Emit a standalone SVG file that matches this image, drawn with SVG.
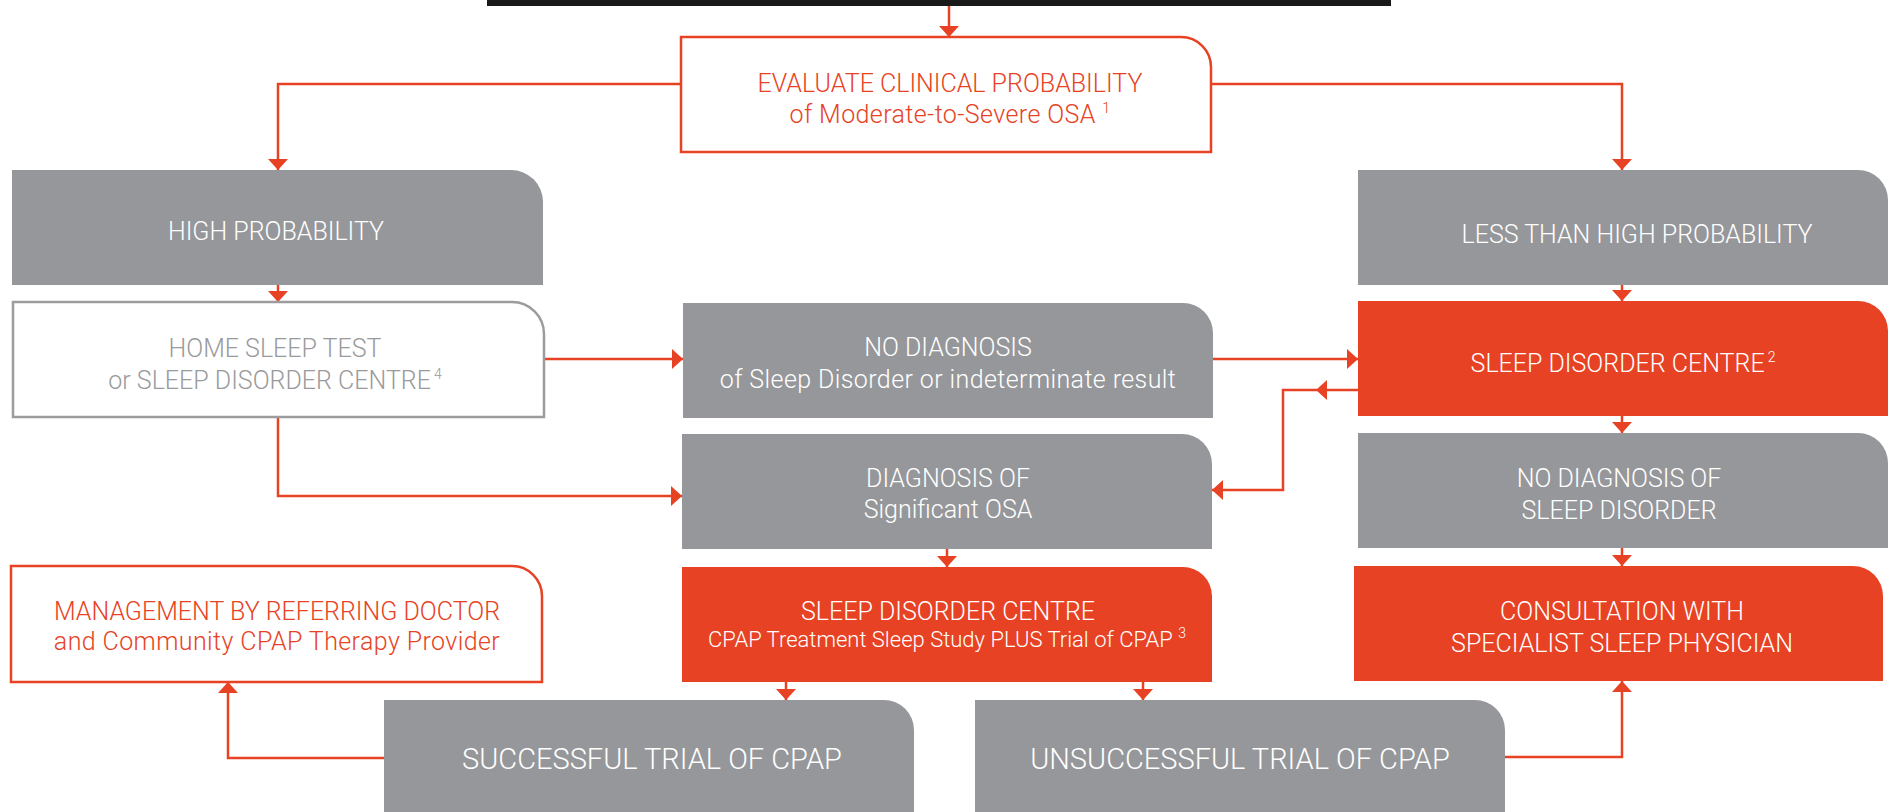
<svg xmlns="http://www.w3.org/2000/svg" width="1888" height="812" viewBox="0 0 1888 812">
<style>
.g{fill:#96979a}
.r{fill:#e84224}
.ow{fill:#fff;stroke:#e84224;stroke-width:2.5}
.gw{fill:#fff;stroke:#9c9c9e;stroke-width:2.5}
text{font-family:Roboto,"Liberation Sans",sans-serif;font-size:25px;text-anchor:middle;font-weight:300}
.tw{fill:#fff}
.tr{fill:#e84224}
.tg{fill:#9a9a9c}
.big{font-size:29px}
.sm{font-size:22px}
.ls{letter-spacing:0.4px}
.sup{font-size:14px}
.c{fill:none;stroke:#e84224;stroke-width:2.5}
</style>
<defs>
<marker id="a" viewBox="0 0 11 20" refX="11" refY="10" markerWidth="11" markerHeight="20" markerUnits="userSpaceOnUse" orient="auto">
<path d="M0,0 L11,10 L0,20 Z" fill="#e84224"/>
</marker>
</defs>
<rect x="487" y="0" width="904" height="6" fill="#1a1a1a"/>
<g id="connectors">
<path class="c" d="M949,6 V37" marker-end="url(#a)"/>
<path class="c" d="M681,84 H278 V170" marker-end="url(#a)"/>
<path class="c" d="M1211,84 H1622 V170" marker-end="url(#a)"/>
<path class="c" d="M278,285 V302" marker-end="url(#a)"/>
<path class="c" d="M544,359 H683" marker-end="url(#a)"/>
<path class="c" d="M278,417 V496 H682" marker-end="url(#a)"/>
<path class="c" d="M1213,359 H1358" marker-end="url(#a)"/>
<path class="c" d="M1358,390 H1316" marker-end="url(#a)"/>
<path class="c" d="M1316,390 H1283 V490 H1212" marker-end="url(#a)"/>
<path class="c" d="M1622,285 V301" marker-end="url(#a)"/>
<path class="c" d="M1622,416 V433" marker-end="url(#a)"/>
<path class="c" d="M1622,548 V566" marker-end="url(#a)"/>
<path class="c" d="M947,549 V567" marker-end="url(#a)"/>
<path class="c" d="M786,682 V700" marker-end="url(#a)"/>
<path class="c" d="M1143,682 V700" marker-end="url(#a)"/>
<path class="c" d="M384,758 H228 V682" marker-end="url(#a)"/>
<path class="c" d="M1505,757 H1622 V681" marker-end="url(#a)"/>
</g>
<g id="evaluate">
<path class="ow" d="M681,37 H1181 A30,30 0 0 1 1211,67 V152 H681 Z"/>
<text class="tr" x="950" y="92">EVALUATE CLINICAL PROBABILITY</text>
<text class="tr ls" x="950" y="123">of Moderate-to-Severe OSA <tspan class="sup" dy="-10">1</tspan></text>
</g>
<g id="high">
<path class="g" d="M12,170 H511 A32,32 0 0 1 543,202 V285 H12 Z"/>
<text class="tw" x="276" y="240">HIGH PROBABILITY</text>
</g>
<g id="home">
<path class="gw" d="M13,302 H512 A32,32 0 0 1 544,334 V417 H13 Z"/>
<text class="tg" x="275" y="357">HOME SLEEP TEST</text>
<text class="tg" x="275" y="389">or SLEEP DISORDER CENTRE<tspan class="sup" dx="3" dy="-10">4</tspan></text>
</g>
<g id="nodiag">
<path class="g" d="M683,303 H1183 A30,30 0 0 1 1213,333 V418 H683 Z"/>
<text class="tw" x="948" y="356">NO DIAGNOSIS</text>
<text class="tw ls" x="948" y="388">of Sleep Disorder or indeterminate result</text>
</g>
<g id="diag">
<path class="g" d="M682,434 H1182 A30,30 0 0 1 1212,464 V549 H682 Z"/>
<text class="tw" x="948" y="487">DIAGNOSIS OF</text>
<text class="tw" x="948" y="518">Significant OSA</text>
</g>
<g id="sdc-cpap">
<path class="r" d="M682,567 H1183 A29,29 0 0 1 1212,596 V682 H682 Z"/>
<text class="tw" x="948" y="620">SLEEP DISORDER CENTRE</text>
<text class="tw sm" x="947" y="647">CPAP Treatment Sleep Study PLUS Trial of CPAP <tspan class="sup" dy="-9">3</tspan></text>
</g>
<g id="management">
<path class="ow" d="M11,566 H512 A30,30 0 0 1 542,596 V682 H11 Z"/>
<text class="tr" x="277" y="620">MANAGEMENT BY REFERRING DOCTOR</text>
<text class="tr ls" x="277" y="650">and Community CPAP Therapy Provider</text>
</g>
<g id="successful">
<path class="g" d="M384,700 H884 A30,30 0 0 1 914,730 V812 H384 Z"/>
<text class="tw big" x="652" y="769">SUCCESSFUL TRIAL OF CPAP</text>
</g>
<g id="unsuccessful">
<path class="g" d="M975,700 H1475 A30,30 0 0 1 1505,730 V812 H975 Z"/>
<text class="tw big" x="1240" y="769">UNSUCCESSFUL TRIAL OF CPAP</text>
</g>
<g id="less">
<path class="g" d="M1358,170 H1858 A30,30 0 0 1 1888,200 V285 H1358 Z"/>
<text class="tw" x="1637" y="243">LESS THAN HIGH PROBABILITY</text>
</g>
<g id="sdc2">
<path class="r" d="M1358,301 H1858 A30,30 0 0 1 1888,331 V416 H1358 Z"/>
<text class="tw" x="1623" y="372">SLEEP DISORDER CENTRE<tspan class="sup" dx="3" dy="-10">2</tspan></text>
</g>
<g id="nodiag-sleep">
<path class="g" d="M1358,433 H1858 A30,30 0 0 1 1888,463 V548 H1358 Z"/>
<text class="tw" x="1619" y="487">NO DIAGNOSIS OF</text>
<text class="tw" x="1619" y="519">SLEEP DISORDER</text>
</g>
<g id="consultation">
<path class="r" d="M1354,566 H1853 A30,30 0 0 1 1883,596 V681 H1354 Z"/>
<text class="tw" x="1622" y="620">CONSULTATION WITH</text>
<text class="tw" x="1622" y="652">SPECIALIST SLEEP PHYSICIAN</text>
</g>
</svg>
